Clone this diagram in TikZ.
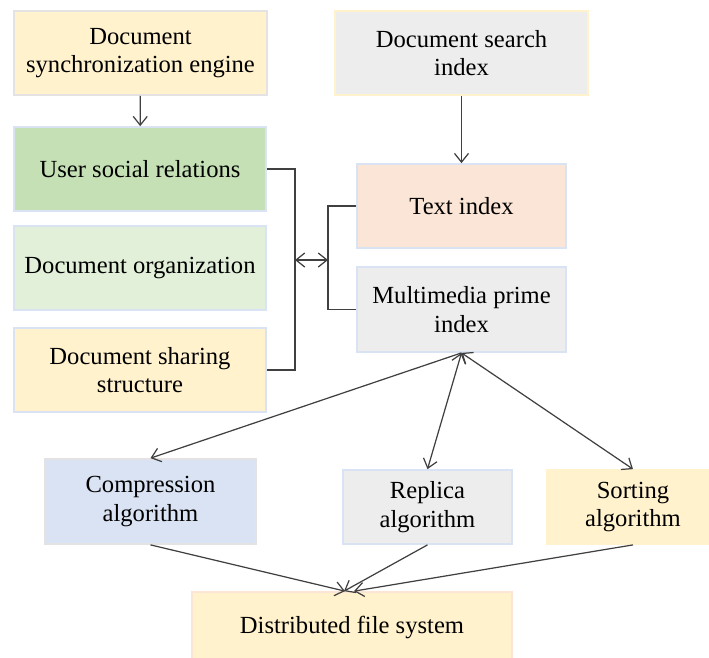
\documentclass[tikz,border=0pt]{standalone}
\usepackage{fontspec}
\setmainfont{Liberation Serif}
\usetikzlibrary{arrows.meta}

\definecolor{cyellow}{HTML}{FFF2CC}
\definecolor{cgray}{HTML}{EDEDED}
\definecolor{cgreen}{HTML}{C5E0B4}
\definecolor{clgreen}{HTML}{E2F0D9}
\definecolor{corange}{HTML}{FBE5D6}
\definecolor{cblue}{HTML}{DAE3F3}
\definecolor{cborder}{HTML}{E4E2E2}
\definecolor{cline}{HTML}{404040}

\begin{document}
\begin{tikzpicture}[x=0.02cm,y=-0.02cm]
        \useasboundingbox (0,0) rectangle (709,657);

        \begin{scope}[every node/.style={draw=cblue,line width=1pt,align=center,inner sep=0pt,
            minimum height=1.68cm,font=\fontsize{14}{16.3}\selectfont}]
          \node[fill=cyellow,draw=cborder,minimum width=5.06cm] (1)  at (140.5,53)  {Document\\synchronization engine};
          \node[fill=cgray,draw=cyellow,minimum width=5.06cm]   (2)  at (461.5,53)  {Document search\\index};
          \node[fill=cgreen,minimum width=5.04cm]                (3)  at (140,169)   {User social relations};
          \node[fill=clgreen,minimum width=5.04cm]               (4)  at (140,268)   {Document organization};
          \node[fill=cyellow,minimum width=5.04cm]               (5)  at (140,370)   {Document sharing\\structure};
          \node[fill=corange,minimum width=4.18cm]               (6)  at (461.5,206) {Text index};
          \node[fill=cgray,minimum width=4.18cm,minimum height=1.7cm] (7) at (461.5,309.5) {Multimedia prime\\index};
          \node[fill=cblue,draw=cborder,minimum width=4.22cm,minimum height=1.7cm] (8) at (150.5,501.5) {Compression\\algorithm};
          \node[fill=cgray,minimum width=3.38cm,minimum height=1.48cm] (9) at (427.5,507) {Replica\\algorithm};
          \node[fill=cyellow,draw=cyellow,minimum width=3.44cm,minimum height=1.48cm] (10) at (633,507) {Sorting\\algorithm};
          \node[fill=cyellow,draw=corange,minimum width=6.4cm,minimum height=1.4cm] (11) at (352,627) {Distributed file system};
        \end{scope}

        \coordinate (bl) at (295,260);
        \coordinate (br) at (328,260);

        \begin{scope}[cline,line width=0.7pt,>={Straight Barb[length=5pt,width=8pt]}]
          \draw (3.east) -| (bl) |- (5.east);
          \draw (6.west) -| (br) |- (7.west);

          \begin{scope}[every edge/.style={draw}]
            \path (bl)  edge[<->] (br);
            \path (1)   edge[->]  (3);
            \path (2)   edge[->]  (6);
            \path (7.south) edge[->]  (8.north);
            \path (7.south) edge[<->] (9.north);
            \path (7.south) edge[<->] (10.north);
            \path (8.south) edge[->]  ([xshift=-0.14cm]11.north);
            \path (9.south) edge[->]  ([xshift=-0.16cm]11.north);
            \path (10.south) edge[->] ([xshift=0.04cm]11.north);
          \end{scope}
        \end{scope}

      \end{tikzpicture}
\end{document}
